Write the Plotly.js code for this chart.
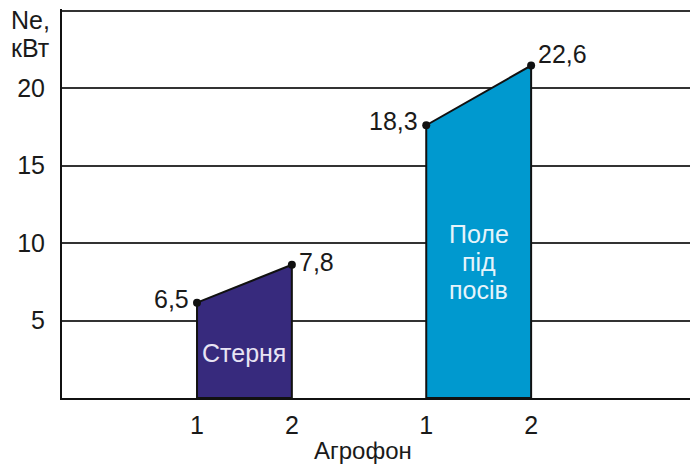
<!DOCTYPE html>
<html>
<head>
<meta charset="utf-8">
<script src="https://cdn.plot.ly/plotly-3.0.1.min.js"></script>
<style>html,body{margin:0;padding:0;background:#fff;}#chart{width:690px;height:465px;}</style>
</head>
<body>
<div id="chart"></div>
<script>
// Data
const agrofonTicks = ['1', '2', '1', '2'];
const stubbleX = [2.15, 3.66];
const stubbleY = [6.15, 8.6];
const stubbleLabels = ['6,5', '7,8'];
const fieldX = [5.8, 7.47];
const fieldY = [17.6, 21.45];
const fieldLabels = ['18,3', '22,6'];
const stubbleName = ['Стерня'];
const fieldName = ['Поле', 'під', 'посів'];
const yTitleLines = ['Ne,', 'кВт'];
const xTitle = 'Агрофон';
const yTickVals = [5, 10, 15, 20, 25];
const yTickText = ['5', '10', '15', '20', ''];

const FONT = 'Liberation Sans, Arial, sans-serif';
const TXT = '#1a1a1a';

function area(xs, ys, color) {
  return {
    type: 'scatter', mode: 'lines',
    x: [xs[0], xs[0], xs[1], xs[1], xs[0]],
    y: [0, ys[0], ys[1], 0, 0],
    fill: 'toself', fillcolor: color,
    line: {color: '#111', width: 2},
    hoverinfo: 'skip', showlegend: false
  };
}
function pts(xs, ys) {
  return {
    type: 'scatter', mode: 'markers',
    x: xs, y: ys,
    marker: {color: '#111', size: 8},
    showlegend: false, cliponaxis: false
  };
}
function labelAnns(xs, ys, labels, rightShiftY) {
  return [
    {xref: 'x', yref: 'y', x: xs[0], y: ys[0], text: labels[0], showarrow: false,
     xanchor: 'right', yanchor: 'middle', xshift: -6, yshift: 4,
     font: {family: FONT, size: 25, color: TXT}},
    {xref: 'x', yref: 'y', x: xs[1], y: ys[1], text: labels[1], showarrow: false,
     xanchor: 'left', yanchor: 'middle', xshift: 5, yshift: rightShiftY,
     font: {family: FONT, size: 25, color: TXT}}
  ];
}
function nameAnns(xs, yMid, lines, color) {
  const n = lines.length;
  return lines.map((t, i) => ({
    xref: 'x', yref: 'y', x: (xs[0] + xs[1]) / 2, y: yMid,
    yshift: ((n - 1) / 2 - i) * 28,
    text: t, showarrow: false,
    font: {family: FONT, size: 25, color: color}
  }));
}

const data = [
  area(stubbleX, stubbleY, '#372a7d'),
  area(fieldX, fieldY, '#0099cf'),
  pts(stubbleX, stubbleY),
  pts(fieldX, fieldY)
];

const yTitleAnns = yTitleLines.map((t, i) => ({
  xref: 'paper', yref: 'paper', x: 0, y: 1, xanchor: 'left', yanchor: 'middle',
  xshift: -53, yshift: -11 - i * 28,
  text: t, showarrow: false,
  font: {family: FONT, size: 25, color: TXT}
}));

const layout = {
  width: 690, height: 465,
  margin: {l: 62, r: 0, t: 9, b: 67},
  paper_bgcolor: '#fff', plot_bgcolor: '#fff',
  font: {family: FONT, color: TXT},
  xaxis: {
    range: [0, 10],
    tickvals: stubbleX.concat(fieldX), ticktext: agrofonTicks,
    showgrid: false, zeroline: false,
    showline: true, linecolor: '#111', linewidth: 2,
    ticks: '', tickfont: {family: FONT, size: 25, color: TXT},
    ticklabelstandoff: 4
  },
  yaxis: {
    range: [0, 25.1],
    tickvals: yTickVals, ticktext: yTickText,
    showgrid: true, gridcolor: '#333', gridwidth: 2,
    zeroline: false,
    showline: true, linecolor: '#111', linewidth: 2,
    ticks: '', tickfont: {family: FONT, size: 25, color: TXT},
    ticklabelstandoff: 10
  },
  annotations: []
    .concat(nameAnns(stubbleX, 2.9, stubbleName, '#e8e4f4'))
    .concat(nameAnns(fieldX, 8.8, fieldName, '#e6f4fb'))
    .concat(yTitleAnns)
    .concat([{xref: 'paper', yref: 'paper', x: 0.479, y: 0, yanchor: 'top', yshift: -37,
      text: xTitle, showarrow: false,
      font: {family: FONT, size: 24, color: TXT}}])
    .concat(labelAnns(stubbleX, stubbleY, stubbleLabels, 3))
    .concat(labelAnns(fieldX, fieldY, fieldLabels, 12))
};

Plotly.newPlot('chart', data, layout, {displayModeBar: false, staticPlot: true});
</script>
</body>
</html>
